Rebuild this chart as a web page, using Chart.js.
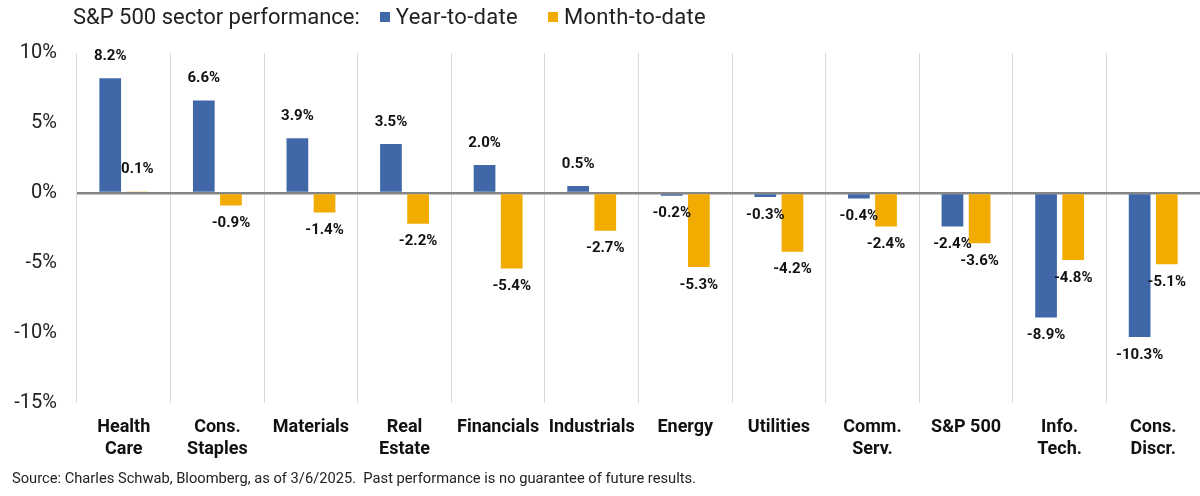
<!DOCTYPE html>
<html>
<head>
<meta charset="utf-8">
<script src="https://cdn.jsdelivr.net/npm/chart.js@4.4.1/dist/chart.umd.min.js"></script>
<style>
  body { margin: 0; background: #fff; font-family: Roboto, "Liberation Sans", sans-serif; }
  #wrap { position: relative; width: 1200px; height: 496px; }
  #head { position: absolute; left: 73px; top: 4px; font-size: 22px; color: #222; display: flex; align-items: center; }
  #head .item { display: flex; align-items: center; margin-left: 20px; letter-spacing: 0.3px; }
  #head .item + .item { margin-left: 30px; }
  #head .box { width: 10px; height: 10px; margin-right: 6px; }
  #source { position: absolute; left: 12px; top: 469px; font-size: 14.7px; color: #222; }
</style>
</head>
<body>
<div id="wrap">
  <canvas id="chart" width="1200" height="496"></canvas>
  <div id="head"><span>S&amp;P 500 sector performance:</span></div>
  <div id="source">Source: Charles Schwab, Bloomberg, as of 3/6/2025.&nbsp; Past performance is no guarantee of future results.</div>
</div>
<script>
const sectors = [
  ["Health", "Care"], ["Cons.", "Staples"], "Materials", ["Real", "Estate"], "Financials", "Industrials",
  "Energy", "Utilities", ["Comm.", "Serv."], "S&P 500", ["Info.", "Tech."], ["Cons.", "Discr."]
];
const yearToDate = [8.2, 6.6, 3.9, 3.5, 2.0, 0.5, -0.2, -0.3, -0.4, -2.4, -8.9, -10.3];
const monthToDate = [0.1, -0.9, -1.4, -2.2, -5.4, -2.7, -5.3, -4.2, -2.4, -3.6, -4.8, -5.1];
const yTicks = [10, 5, 0, -5, -10, -15];

const blue = "#4068a8";
const gold = "#f2ab00";

// labels above/below each bar end
const barLabels = {
  id: "barLabels",
  afterDatasetsDraw(chart) {
    const ctx = chart.ctx;
    ctx.save();
    ctx.font = "bold 15px Roboto, sans-serif";
    ctx.fillStyle = "#111";
    ctx.textAlign = "center";
    ctx.textBaseline = "middle";
    chart.data.datasets.forEach((ds, i) => {
      chart.getDatasetMeta(i).data.forEach((bar, j) => {
        const v = ds.data[j];
        const y = v >= 0 ? bar.y - 22 : bar.y + 18;
        ctx.fillText(v.toFixed(1) + "%", bar.x, y);
      });
    });
    ctx.restore();
  }
};

const chart = new Chart(document.getElementById("chart"), {
  type: "bar",
  data: {
    labels: sectors,
    datasets: [
      { label: "Year-to-date", data: yearToDate, backgroundColor: blue },
      { label: "Month-to-date", data: monthToDate, backgroundColor: gold }
    ]
  },
  options: {
    responsive: false,
    animation: false,
    categoryPercentage: 0.58,
    barPercentage: 0.8,
    layout: { padding: { top: 53, left: 0, right: 0, bottom: 22 } },
    plugins: { legend: { display: false }, tooltip: { enabled: false } },
    scales: {
      x: {
        grid: { color: "#d9d9d9", lineWidth: 1, drawTicks: false },
        border: { display: false },
        ticks: { color: "#111", font: { size: 18, weight: "bold", family: "Roboto" }, padding: 14, maxRotation: 0, autoSkip: false }
      },
      y: {
        min: -15, max: 10,
        afterBuildTicks(axis) { axis.ticks = yTicks.map(v => ({ value: v })); },
        grid: {
          drawTicks: false,
          color: c => c.tick && c.tick.value === 0 ? "#858585" : "rgba(0,0,0,0)",
          lineWidth: c => c.tick && c.tick.value === 0 ? 2.5 : 0
        },
        border: { display: false },
        ticks: { color: "#222", font: { size: 20, family: "Roboto" }, padding: 20, callback: v => v + "%" },
        afterFit(axis) { axis.width = 77; }
      }
    }
  },
  plugins: [barLabels]
});

// legend next to the title, built from the datasets
const head = document.getElementById("head");
chart.data.datasets.forEach(ds => {
  const item = document.createElement("span");
  item.className = "item";
  item.innerHTML = '<span class="box" style="background:' + ds.backgroundColor + '"></span>' + ds.label;
  head.appendChild(item);
});
</script>
</body>
</html>
